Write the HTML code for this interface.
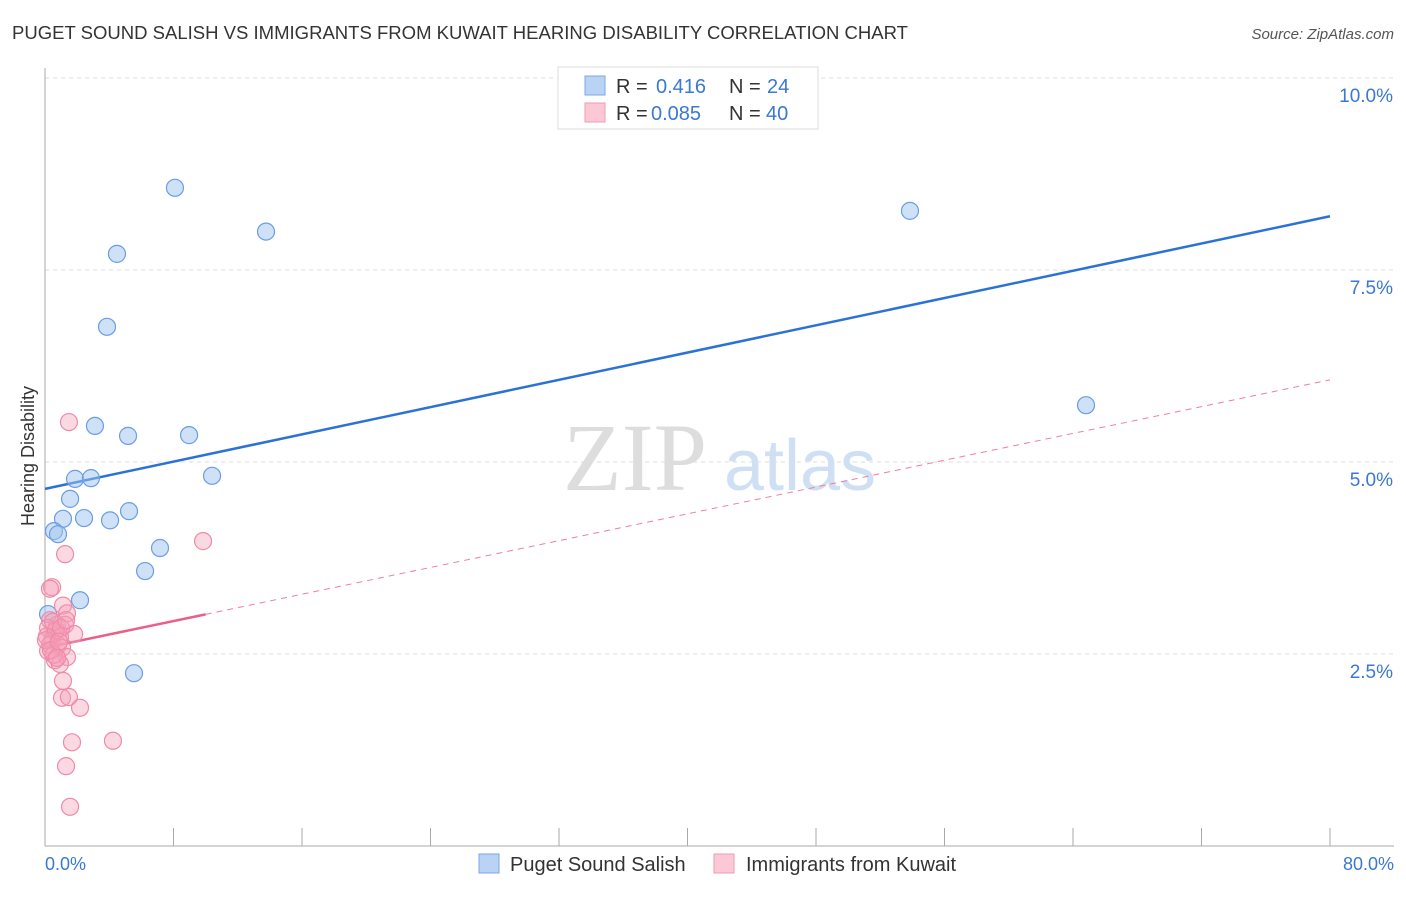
<!DOCTYPE html>
<html><head><meta charset="utf-8"><style>
body{margin:0;background:#fff;font-family:"Liberation Sans",sans-serif}
</style></head><body>
<svg width="1406" height="892" xmlns="http://www.w3.org/2000/svg">
<text x="12" y="39" font-size="18" fill="#333" textLength="896" lengthAdjust="spacingAndGlyphs">PUGET SOUND SALISH VS IMMIGRANTS FROM KUWAIT HEARING DISABILITY CORRELATION CHART</text>
<text x="1394" y="39" font-size="15" fill="#555" font-style="italic" text-anchor="end">Source: ZipAtlas.com</text>
<g id="grid"></g>
<g><text x="635" y="490" font-family="Liberation Serif" font-size="96" fill="#ddd" text-anchor="middle">ZIP</text><text x="800" y="490" font-size="72" fill="#cfe0f5" text-anchor="middle">atlas</text></g>
<line x1="45" y1="68" x2="45" y2="846" stroke="#aaa"/>
<line x1="45" y1="846" x2="1394" y2="846" stroke="#aaa"/>
<g id="xt"></g>
<text x="45" y="870" font-size="18" fill="#3a78d4">0.0%</text>
<text x="1394" y="870" font-size="18" fill="#3a78d4" text-anchor="end">80.0%</text>
<text transform="translate(34,456) rotate(-90)" font-size="18" fill="#333" text-anchor="middle">Hearing Disability</text>
<g id="lines"></g>
<g id="pts"></g>
<g>
<rect x="558" y="67" width="260" height="62" fill="#fff" stroke="#ddd"/>
<rect x="585" y="76" width="20" height="19" fill="#b9d3f5" stroke="#7aa7e6"/>
<rect x="585" y="103" width="20" height="19" fill="#fbc8d6" stroke="#f09ab3"/>
<text x="616" y="93" font-size="20" fill="#333">R =</text><text x="656" y="93" font-size="20" fill="#3a78d4">0.416</text><text x="729" y="93" font-size="20" fill="#333">N =</text><text x="767" y="93" font-size="20" fill="#3a78d4">24</text>
<text x="616" y="120" font-size="20" fill="#333">R =</text><text x="651" y="120" font-size="20" fill="#3a78d4">0.085</text><text x="729" y="120" font-size="20" fill="#333">N =</text><text x="766" y="120" font-size="20" fill="#3a78d4">40</text>
</g>
<g>
<rect x="479" y="854" width="20" height="19" fill="#b9d3f5" stroke="#7aa7e6"/>
<text x="510" y="871" font-size="20" fill="#333">Puget Sound Salish</text>
<rect x="714" y="854" width="20" height="19" fill="#fbc8d6" stroke="#f09ab3"/>
<text x="746" y="871" font-size="20" fill="#333">Immigrants from Kuwait</text>
</g>
</svg>
<script>
const yTicks=[2.5,5.0,7.5,10.0];
const blueX=[8.09,13.76,4.48,3.86,3.11,5.17,8.97,10.40,1.87,2.86,1.56,1.12,2.43,4.05,5.23,0.56,0.81,7.16,6.23,2.18,0.19,5.54,53.85,64.81];
const blueY=[8.57,8.00,7.71,6.76,5.47,5.34,5.35,4.82,4.78,4.79,4.52,4.26,4.27,4.24,4.36,4.10,4.06,3.88,3.58,3.20,3.02,2.25,8.27,5.74];
const pinkX=[1.49,9.84,1.25,0.44,0.31,1.12,1.37,0.31,0.75,1.25,0.19,0.62,1.81,0.93,0.44,0.12,0.31,0.81,1.06,0.19,1.37,0.62,0.93,1.12,1.06,1.49,2.18,1.68,4.23,1.31,1.56,0.68,0.50,1.00,0.06,0.56,0.37,1.31,0.87,0.75];
const pinkY=[5.52,3.97,3.80,3.37,3.35,3.13,3.03,2.94,2.88,2.88,2.84,2.79,2.76,2.72,2.68,2.73,2.62,2.62,2.58,2.54,2.46,2.42,2.37,2.15,1.93,1.94,1.80,1.35,1.37,1.04,0.51,2.81,2.92,2.84,2.68,2.49,2.55,2.94,2.66,2.45];
const blueTrend=[4.65,8.20];
const pinkTrend=[2.58,6.07];
const pinkSolidEnd=10;
const NS="http://www.w3.org/2000/svg";
const sx=v=>45+v/80*1285, sy=v=>846-v/2.5*192;
function mk(t,a,p){const e=document.createElementNS(NS,t);for(const k in a)e.setAttribute(k,a[k]);p.appendChild(e);return e;}
const grid=document.getElementById('grid');
yTicks.forEach(t=>{
  const l=mk('line',{x1:45,x2:1394,y1:sy(t),y2:sy(t),stroke:'#ddd','stroke-dasharray':'4,4'},grid);
  
  
  const tx=mk('text',{x:1393,y:sy(t)+24,'font-size':19,fill:'#3a78d4','text-anchor':'end'},grid);
  tx.textContent=t.toFixed(1)+'%';
  
  
});
const xt=document.getElementById('xt');
for(let i=1;i<=10;i++){const l=mk('line',{x1:sx(i*8),x2:sx(i*8),y1:828,y2:846,stroke:'#aaa'},xt);
  
  }
const lines=document.getElementById('lines');
const bl=mk('line',{x1:sx(0),y1:sy(blueTrend[0]),x2:sx(80),y2:sy(blueTrend[1]),stroke:'#2a72d6','stroke-width':2.5},lines);


const pAt=x=>pinkTrend[0]+(pinkTrend[1]-pinkTrend[0])*x/80;
const pd=mk('line',{x1:sx(pinkSolidEnd),y1:sy(pAt(pinkSolidEnd)),x2:sx(80),y2:sy(pinkTrend[1]),stroke:'#ee7fa0','stroke-width':1,'stroke-dasharray':'6,5'},lines);


const ps=mk('line',{x1:sx(0),y1:sy(pinkTrend[0]),x2:sx(pinkSolidEnd),y2:sy(pAt(pinkSolidEnd)),stroke:'#ea5f8a','stroke-width':2.5},lines);


const pts=document.getElementById('pts');
blueX.forEach((x,i)=>{const c=mk('circle',{cx:sx(x),cy:sy(blueY[i]),r:8.5,fill:'rgba(160,196,240,0.5)',stroke:'#6a9de2','stroke-width':1.2},pts);
  
  });
pinkX.forEach((x,i)=>{const c=mk('circle',{cx:sx(x),cy:sy(pinkY[i]),r:8.5,fill:'rgba(245,160,185,0.4)',stroke:'#f08aa8','stroke-width':1.2},pts);
  
  });
</script>
</body></html>
